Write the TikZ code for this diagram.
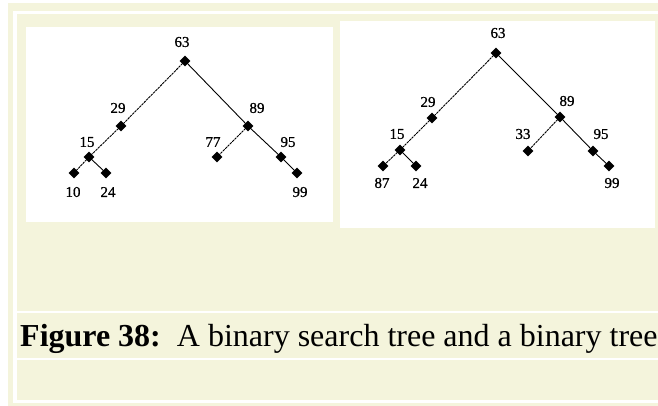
\documentclass[tikz,border=0pt]{standalone}
\usepackage{fontspec}
\setmainfont{Liberation Serif}
\newfontfamily\labelfont[FakeBold=0.8]{Liberation Serif}
\usetikzlibrary{shapes.geometric}
\definecolor{cream}{HTML}{F4F4DC}
\tikzset{
  treenode/.style={diamond, fill=black, inner sep=0pt, minimum width=11pt, minimum height=11pt},
  numlabel/.style={font=\labelfont\fontsize{15}{15}\selectfont, inner sep=0pt},
  edgeL/.style={line width=0.9pt, dash pattern=on 2.5pt off 0.8pt},
  edgeR/.style={line width=0.9pt},
  whiteline/.style={fill=white},
}
\begin{document}
\begin{tikzpicture}[x=1pt,y=-1pt]
\useasboundingbox (0,0) rectangle (658,406);
\fill[white] (0,0) rectangle (658,406);
\fill[cream] (8,3.5) rectangle (658,406);
% table cell-spacing lines
\fill[whiteline] (13,10.7) rectangle (658,14);
\fill[whiteline] (13,10.7) rectangle (16.5,403);
\fill[whiteline] (16.5,310.7) rectangle (658,313.3);
\fill[whiteline] (16.5,357.7) rectangle (658,360);
\fill[whiteline] (13,400) rectangle (658,403);
% image areas
\fill[white] (26,27) rectangle (333,222);
\fill[white] (340,20.7) rectangle (655,228);

% ---------- left tree ----------
\node[treenode] (a63) at (185,61) {};
\node[treenode] (a29) at (121,126) {};
\node[treenode] (a15) at (89,157) {};
\node[treenode] (a10) at (74,173) {};
\node[treenode] (a24) at (106,173) {};
\node[treenode] (a89) at (248,126) {};
\node[treenode] (a77) at (217,157) {};
\node[treenode] (a95) at (281,157) {};
\node[treenode] (a99) at (297,173) {};
\draw[edgeL] (a63.center) -- (a29.center);
\draw[edgeL] (a29.center) -- (a15.center);
\draw[edgeL] (a15.center) -- (a10.center);
\draw[edgeR] (a15.center) -- (a24.center);
\draw[edgeR] (a63.center) -- (a89.center);
\draw[edgeL] (a89.center) -- (a77.center);
\draw[edgeR] (a89.center) -- (a95.center);
\draw[edgeR] (a95.center) -- (a99.center);
\node[numlabel] (la63) at (182,42) {63};
\node[numlabel] (la29) at (118,108) {29};
\node[numlabel] (la15) at (87,142) {15};
\node[numlabel] (la10) at (73,192) {10};
\node[numlabel] (la24) at (108,192) {24};
\node[numlabel] (la89) at (257,108) {89};
\node[numlabel] (la77) at (213,142) {77};
\node[numlabel] (la95) at (288,142) {95};
\node[numlabel] (la99) at (300,192) {99};

% ---------- right tree ----------
\node[treenode] (b63) at (496,53) {};
\node[treenode] (b29) at (432,118) {};
\node[treenode] (b15) at (400,150) {};
\node[treenode] (b87) at (383,166) {};
\node[treenode] (b24) at (416,166) {};
\node[treenode] (b89) at (560,117) {};
\node[treenode] (b33) at (528,151) {};
\node[treenode] (b95) at (593,151) {};
\node[treenode] (b99) at (609,166) {};
\draw[edgeL] (b63.center) -- (b29.center);
\draw[edgeL] (b29.center) -- (b15.center);
\draw[edgeL] (b15.center) -- (b87.center);
\draw[edgeR] (b15.center) -- (b24.center);
\draw[edgeR] (b63.center) -- (b89.center);
\draw[edgeL] (b89.center) -- (b33.center);
\draw[edgeR] (b89.center) -- (b95.center);
\draw[edgeR] (b95.center) -- (b99.center);
\node[numlabel] (lb63) at (498,33) {63};
\node[numlabel] (lb29) at (428,102) {29};
\node[numlabel] (lb15) at (397,134) {15};
\node[numlabel] (lb87) at (382,183) {87};
\node[numlabel] (lb24) at (420,183) {24};
\node[numlabel] (lb89) at (567,101) {89};
\node[numlabel] (lb33) at (523,134) {33};
\node[numlabel] (lb95) at (601,134) {95};
\node[numlabel] (lb99) at (612,183) {99};

% ---------- caption ----------
\node[anchor=base west, inner sep=0pt, font=\fontsize{32}{32}\selectfont] (cap) at (20,346)
  {\textbf{Figure 38:}\ \ A binary search tree and a binary tree};
\end{tikzpicture}
\end{document}
